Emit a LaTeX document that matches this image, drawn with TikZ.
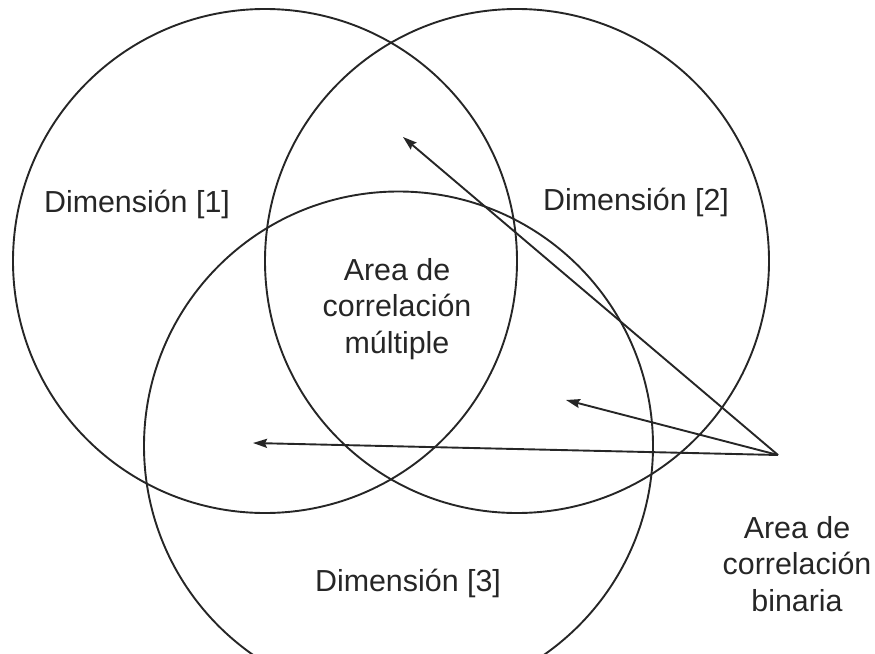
\documentclass[tikz,border=0pt]{standalone}
\usepackage{fontspec}
\setmainfont{Liberation Sans}
\usetikzlibrary{arrows.meta}
\begin{document}
\begin{tikzpicture}[x=1pt,y=-1pt,
  ring/.style={draw=black!85, line width=1.9pt, circle, minimum size=#1, inner sep=0pt},
  lbl/.style={font=\fontsize{30.4}{36.7}\selectfont, text=black!85, inner sep=0pt, align=center},
  pointer/.style={draw=black!85, line width=1.9pt, -{Stealth[length=14pt,width=9pt,inset=2pt]}}]
\useasboundingbox (0,0) rectangle (875,653);
\clip (0,0) rectangle (875,653);
\node[ring=504pt] (c1) at (265,261) {};
\node[ring=504pt] (c2) at (517,261) {};
\node[ring=509pt] (c3) at (398.5,446) {};
\node[lbl, anchor=base] (d1) at (137,212) {Dimensión [1]};
\node[lbl, anchor=base] (d2) at (636,210) {Dimensión [2]};
\node[lbl, anchor=base] (d3) at (408,591) {Dimensión [3]};
\node[lbl] (multi) at (397,309) {Area de\\correlación\\múltiple};
\node[lbl] (bin) at (797,564) {Area de\\correlación\\binaria};
\coordinate (src) at (778,455);
\coordinate (h1) at (403,137);
\coordinate (h2) at (566,400);
\coordinate (h3) at (253,443);
\draw[pointer] (src) -- (h1);
\draw[pointer] (src) -- (h2);
\draw[pointer] (src) -- (h3);
\end{tikzpicture}
\end{document}
